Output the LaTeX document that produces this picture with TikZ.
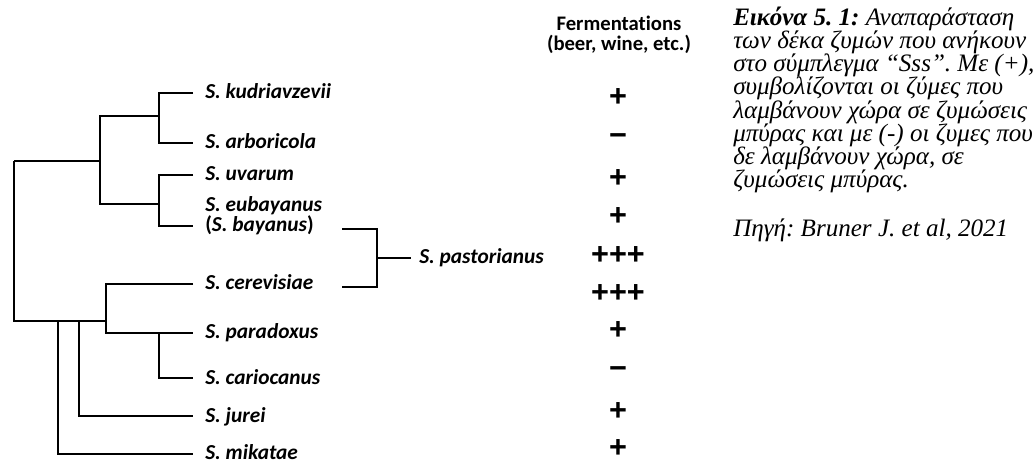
\documentclass[tikz,border=0pt]{standalone}
\usepackage{fontspec}
\newfontfamily\treefont{Carlito}[Ligatures={NoCommon}]
\newfontfamily\plusfont{Liberation Sans}
\newfontfamily\capfont{Liberation Serif}
\begin{document}
\begin{tikzpicture}[x=0.75pt,y=-0.75pt,
  thk/.style={line width=1.6pt},
  thn/.style={line width=0.9pt},
  leaf/.style={anchor=base west,inner sep=0pt,font=\treefont\fontsize{16pt}{12pt}\selectfont\bfseries\itshape,align=left},
  sign/.style={inner sep=0pt,font=\plusfont\fontsize{23pt}{23pt}\selectfont\bfseries},
  head/.style={inner sep=0pt,font=\treefont\fontsize{15.5pt}{15pt}\selectfont\bfseries,align=center}]
\useasboundingbox (0,0) rectangle (1035,463);
% leaf tips
\coordinate (kud) at (193,93);
\coordinate (arb) at (193,143);
\coordinate (uva) at (193,175);
\coordinate (eub) at (193,226);
\coordinate (cer) at (193,284);
\coordinate (par) at (193,333);
\coordinate (car) at (193,378);
\coordinate (jur) at (193,416);
\coordinate (mik) at (193,454);
% internal nodes
\coordinate (KA) at (159,116);
\coordinate (UE) at (159,204);
\coordinate (A) at (100,161);
\coordinate (rt) at (14,161);
\coordinate (rb) at (14,321);
\coordinate (C) at (106,321);
\coordinate (PC) at (159,333);
\coordinate (J) at (79,321);
\coordinate (M) at (58,321);
% labels
\node[leaf] (Lkud) at (205,99) {S. kudriavzevii};
\node[leaf] (Larb) at (205,149) {S. arboricola};
\node[leaf] (Luva) at (205,181) {S. uvarum};
\node[leaf] (Leub) at (205,232) {S. eubayanus\\\upshape(\itshape S. bayanus\upshape)};
\node[leaf] (Lcer) at (205,290) {S. cerevisiae};
\node[leaf] (Lpar) at (205,339) {S. paradoxus};
\node[leaf] (Lcar) at (205,384) {S. cariocanus};
\node[leaf] (Ljur) at (205,422) {S. jurei};
\node[leaf] (Lmik) at (205,459) {S. mikatae};
% tree
\draw[thk] (kud) -| (KA) |- (arb);
\draw[thk] (uva) -| (UE) |- (eub);
\draw[thk] (KA) -| (A) |- (UE);
\draw[thn] (A) -- (rt);
\draw[thk] (rt) -- (rb) -- (C);
\draw[thk] (cer) -| (C) |- (par);
\draw[thk] (PC) |- (car);
\draw[thn] (J) |- (jur);
\draw[thn] (M) |- (mik);
% hybrid bracket
\coordinate (bt) at (342,229);
\coordinate (bb) at (342,287);
\coordinate (bm) at (377,258);
\node[leaf,anchor=west] (Lpas) at (419,258) {S. pastorianus};
\draw[thk] (bt) -| (bm) |- (bb);
\draw[thn] (bm) -- ([xshift=-6pt]Lpas.west);
% header
\node[head] (hd) at (619,35) {Fermentations\\(beer, wine, etc.)};
% signs
\node[sign] (f1) at (618,98) {+};
\node[sign] (f2) at (618,140) {−};
\node[sign] (f3) at (618,179) {+};
\node[sign] (f4) at (618,217) {+};
\node[sign] (f5) at (618,256) {+++};
\node[sign] (f6) at (618,294) {+++};
\node[sign] (f7) at (618,331) {+};
\node[sign] (f8) at (618,373) {−};
\node[sign] (f9) at (618,412) {+};
\node[sign] (f10) at (618,449) {+};
% caption
\node[anchor=north west,inner sep=0pt,align=left,
  font=\capfont\fontsize{18.8pt}{17.3pt}\selectfont\itshape\frenchspacing] (cap) at (733,7)
{\textbf{Εικόνα 5. 1:} Αναπαράσταση\\
των δέκα ζυμών που ανήκουν\\
στο σύμπλεγμα “Sss”. Με (+),\\
συμβολίζονται οι ζύμες που\\
λαμβάνουν χώρα σε ζυμώσεις\\
μπύρας και με (-) οι ζυμες που\\
δε λαμβάνουν χώρα, σε\\
ζυμώσεις μπύρας.\\[20pt]
Πηγή: Bruner J. et al, 2021};
\end{tikzpicture}
\end{document}
